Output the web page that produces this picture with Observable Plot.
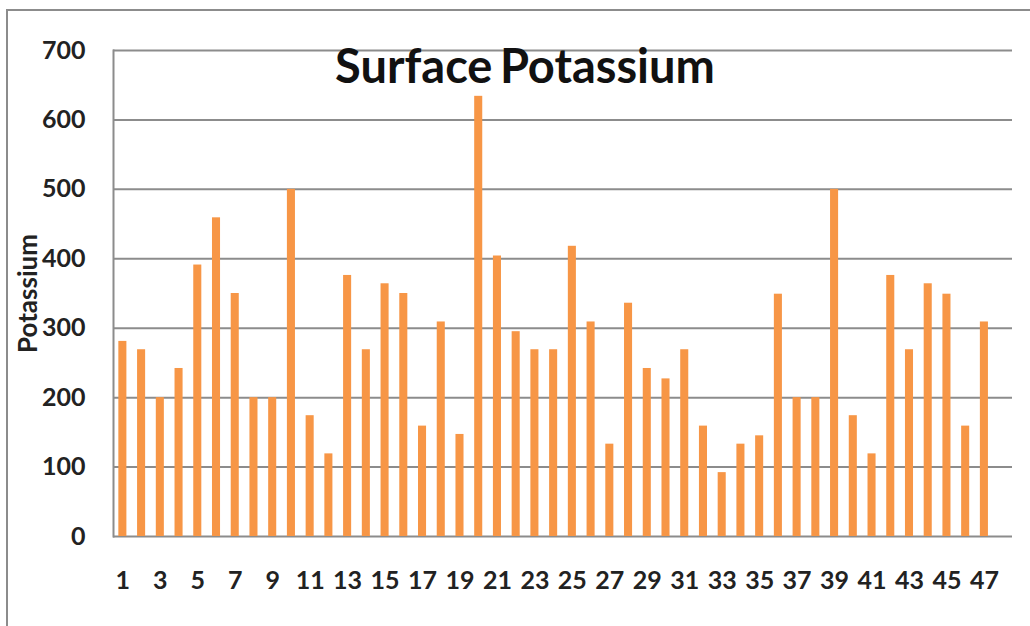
<!DOCTYPE html>
<html>
<head>
<meta charset="utf-8">
<script src="https://cdn.jsdelivr.net/npm/d3@7"></script>
<script src="https://cdn.jsdelivr.net/npm/@observablehq/plot@0.6"></script>
<style>
  html, body { margin: 0; padding: 0; background: #fff; overflow: hidden; }
  #wrap { position: relative; width: 1030px; height: 626px; overflow: hidden; }
  #border { position: absolute; left: 6px; top: 9px; width: 1200px; height: 800px; border: 2px solid #8c8c8c; box-sizing: border-box; }
  #title { position: absolute; left: 0; width: 1050px; top: 39px; text-align: center; font-family: Lato, sans-serif; font-weight: 700; font-size: 47px; color: #111; line-height: 52px; word-spacing: -4px; }
  #chart { position: absolute; left: 0; top: 0; }
</style>
</head>
<body>
<div id="wrap">
  <div id="border"></div>
  <div id="chart"></div>
  <div id="title">Surface Potassium</div>
</div>
<script>
const categories = [1,2,3,4,5,6,7,8,9,10,11,12,13,14,15,16,17,18,19,20,21,22,23,24,25,26,27,28,29,30,31,32,33,34,35,36,37,38,39,40,41,42,43,44,45,46,47,48];
const potassium = [281,269,200,242,391,459,350,200,200,500,174,119,376,269,364,350,159,309,147,634,404,295,269,269,418,309,133,336,242,227,269,159,92,133,145,349,200,200,500,174,119,376,269,364,349,159,309];
const yTicks = [0,100,200,300,400,500,600,700];
const xTickLabels = [1,3,5,7,9,11,13,15,17,19,21,23,25,27,29,31,33,35,37,39,41,43,45,47];
const yLabel = "Potassium";

const data = potassium.map((v, i) => ({sample: categories[i], value: v}));

const chart = Plot.plot({
  width: 1030,
  height: 626,
  marginLeft: 113,
  marginRight: 18,
  marginTop: 50,
  marginBottom: 90,
  style: {fontFamily: "Lato, sans-serif", background: "transparent", overflow: "visible"},
  x: {type: "band", domain: categories, paddingInner: 0.57, paddingOuter: 0.285, label: null},
  y: {domain: [0, 700], label: null},
  marks: [
    Plot.gridY(yTicks, {stroke: "#8c8c8c", strokeOpacity: 1, strokeWidth: 2}),
    Plot.frame({anchor: "left", stroke: "#8c8c8c", strokeWidth: 2}),
    Plot.barY(data, {x: "sample", y: "value", fill: "#f79646"}),
    Plot.axisY(yTicks, {tickSize: 0, tickPadding: 28, fontSize: 25, fontWeight: 700, fill: "#222", label: null}),
    Plot.axisX(xTickLabels, {tickSize: 0, tickPadding: 35, fontSize: 25, fontWeight: 700, fill: "#222", label: null}),
    Plot.text([yLabel], {text: d => d, frameAnchor: "left", textAnchor: "middle", rotate: -90, dx: -85, fontSize: 26, fontWeight: 700, fill: "#222"})
  ]
});
document.getElementById("chart").appendChild(chart);
</script>
</body>
</html>
